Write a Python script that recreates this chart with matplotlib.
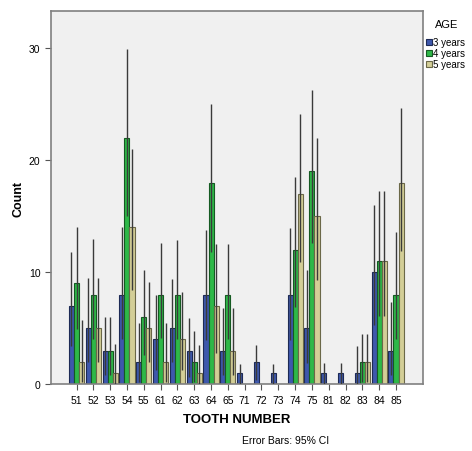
import numpy as np
import matplotlib
matplotlib.use('Agg')
import matplotlib.pyplot as plt
from matplotlib.patches import Rectangle

plt.rcParams['font.family'] = ['Liberation Sans', 'DejaVu Sans']

teeth = ['51', '52', '53', '54', '55', '61', '62', '63', '64', '65',
         '71', '72', '73', '74', '75', '81', '82', '83', '84', '85']
ages = ['3 years', '4 years', '5 years']

count_3 = [7, 5, 3, 8, 2, 4, 5, 3, 8, 3, 1, 2, 1, 8, 5, 1, 1, 1, 10, 3]
count_4 = [9, 8, 3, 22, 6, 8, 8, 2, 18, 8, 0, 0, 0, 12, 19, 0, 0, 2, 11, 8]
count_5 = [2, 5, 1, 14, 5, 2, 4, 1, 7, 3, 0, 0, 0, 17, 15, 0, 0, 2, 11, 18]

# 95% CI ends
lo_3 = [3.4, 2.0, 0.8, 4.0, 0.2, 1.3, 2.0, 0.6, 3.9, 0.8, 0.0, 0.4, 0.0, 3.9, 1.9, 0.0, 0.0, 0.0, 5.3, 0.8]
hi_3 = [11.8, 9.5, 6.0, 14.0, 5.5, 8.0, 9.4, 5.9, 13.8, 6.8, 1.8, 3.5, 1.8, 13.9, 10.2, 1.9, 1.9, 3.4, 16.0, 7.3]
lo_4 = [4.9, 4.0, 0.8, 15.0, 2.6, 4.1, 4.0, 0.2, 11.8, 4.0, 0, 0, 0, 6.9, 12.6, 0, 0, 0.2, 6.1, 4.0]
hi_4 = [14.0, 13.0, 6.0, 29.9, 10.2, 12.6, 12.9, 4.7, 25.0, 12.5, 0, 0, 0, 18.5, 26.3, 0, 0, 4.5, 17.2, 13.6]
lo_5 = [0.2, 2.0, 0.0, 8.4, 2.0, 0.2, 1.3, 0.0, 2.8, 0.8, 0, 0, 0, 10.9, 9.3, 0, 0, 0.2, 6.1, 11.9]
hi_5 = [5.7, 9.5, 3.6, 21.0, 9.1, 5.5, 8.2, 3.5, 12.5, 6.8, 0, 0, 0, 24.1, 22.0, 0, 0, 4.5, 17.2, 24.7]

colors = ['#3E58AC', '#2EB848', '#D3CE97']
edges = ['#1d2a55', '#155a22', '#6b6848']

fig = plt.figure(figsize=(4.72, 4.52), dpi=100)
ax = fig.add_axes([0.108, 0.148, 0.788, 0.825])
ax.set_facecolor('#F0F0F0')

x = np.arange(len(teeth))
w = 0.3
series = [(count_3, lo_3, hi_3), (count_4, lo_4, hi_4), (count_5, lo_5, hi_5)]
for i, (vals, lo, hi) in enumerate(series):
    pos = x + (i - 1) * w
    vals = np.array(vals, dtype=float)
    ax.bar(pos, vals, width=w, color=colors[i], edgecolor=edges[i], linewidth=0.8, zorder=2)
    lo = np.array(lo); hi = np.array(hi)
    keep = hi > 0
    ax.vlines(pos[keep], lo[keep], hi[keep], color='#3a3a3a', linewidth=1.0, zorder=3)

ax.set_xlim(-1.52, 20.6)
ax.set_ylim(0, 33.3)
ax.set_xticks(x)
ax.set_xticklabels(teeth, fontsize=7.5)
ax.set_yticks([0, 10, 20, 30])
ax.tick_params(axis='y', labelsize=7.5, length=4, color='#555555')
ax.tick_params(axis='x', length=4, color='#555555')
for s in ax.spines.values():
    s.set_color('#808080')
    s.set_linewidth(1.2)

ax.set_ylabel('Count', fontsize=9, fontweight='bold', labelpad=3)
ax.set_xlabel('TOOTH NUMBER', fontsize=9.5, fontweight='bold', labelpad=6)
fig.text(0.605, 0.013, 'Error Bars: 95% CI', fontsize=7.5, ha='center', va='bottom')

# legend drawn by hand, outside the plot on the right
fig.text(0.946, 0.945, 'AGE', fontsize=8, ha='center', va='center')
for i, lab in enumerate(ages):
    yc = 0.904 - i * 0.0235
    fig.add_artist(Rectangle((0.903, yc - 0.0065), 0.0125, 0.013, transform=fig.transFigure,
                             facecolor=colors[i], edgecolor=edges[i], linewidth=0.8))
    fig.text(0.9175, yc, lab, fontsize=7, ha='left', va='center')

fig.savefig('out.png', dpi=100)
